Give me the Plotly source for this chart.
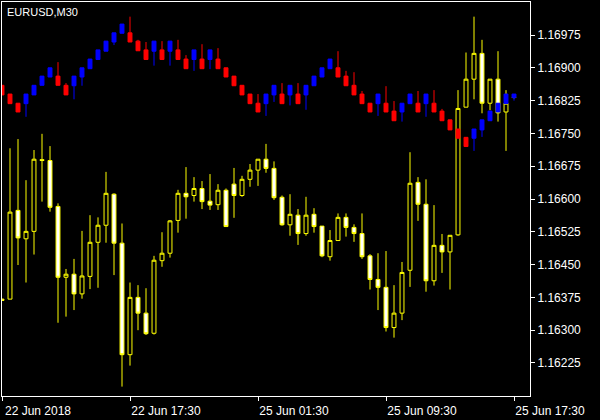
import plotly.graph_objects as go
import pandas as pd

chart_title = "EURUSD,M30"

# M30 bar times: Friday 22 Jun 09:30-23:30, Monday 25 Jun 00:00-17:30
fri = pd.date_range("2018-06-22 09:30", "2018-06-22 23:30", freq="30min")
mon = pd.date_range("2018-06-25 00:00", "2018-06-25 17:30", freq="30min")
times = [t.strftime("%Y-%m-%d %H:%M") for t in list(fri) + list(mon)]

candle_open = [1.16371, 1.16371, 1.16574, 1.16509, 1.16526, 1.16690, 1.16688, 1.16583, 1.16421, 1.16428,
               1.16383, 1.16423, 1.16501, 1.16540, 1.16611, 1.16499, 1.16244, 1.16375, 1.16339, 1.16293,
               1.16459, 1.16476, 1.16551, 1.16613, 1.16608, 1.16624, 1.16595, 1.16587, 1.16620, 1.16634,
               1.16608, 1.16645, 1.16666, 1.16691, 1.16670, 1.16604, 1.16541, 1.16563, 1.16521, 1.16565,
               1.16538, 1.16468, 1.16505, 1.16558, 1.16535, 1.16521, 1.16470, 1.16416, 1.16398, 1.16306,
               1.16339, 1.16437, 1.16638, 1.16588, 1.16413, 1.16494, 1.16479, 1.16518, 1.16810, 1.16874,
               1.16933, 1.16819, 1.16874, 1.16799, 1.16832]
candle_high = [1.16372, 1.16716, 1.16737, 1.16643, 1.16712, 1.16749, 1.16721, 1.16590, 1.16440, 1.16463,
               1.16527, 1.16563, 1.16558, 1.16662, 1.16613, 1.16544, 1.16409, 1.16403, 1.16396, 1.16470,
               1.16524, 1.16552, 1.16621, 1.16673, 1.16650, 1.16641, 1.16657, 1.16634, 1.16624, 1.16671,
               1.16653, 1.16680, 1.16691, 1.16726, 1.16686, 1.16608, 1.16611, 1.16577, 1.16605, 1.16579,
               1.16538, 1.16529, 1.16567, 1.16567, 1.16542, 1.16567, 1.16474, 1.16476, 1.16481, 1.16403,
               1.16456, 1.16707, 1.16650, 1.16645, 1.16586, 1.16520, 1.16517, 1.16849, 1.16935, 1.17017,
               1.16964, 1.16874, 1.16938, 1.16849, 1.16834]
candle_low = [1.16368, 1.16371, 1.16449, 1.16409, 1.16473, 1.16594, 1.16571, 1.16317, 1.16331, 1.16346,
              1.16372, 1.16394, 1.16397, 1.16500, 1.16426, 1.16171, 1.16219, 1.16300, 1.16289, 1.16290,
              1.16445, 1.16466, 1.16523, 1.16555, 1.16594, 1.16577, 1.16575, 1.16575, 1.16537, 1.16557,
              1.16605, 1.16628, 1.16630, 1.16660, 1.16598, 1.16539, 1.16516, 1.16495, 1.16516, 1.16523,
              1.16467, 1.16459, 1.16505, 1.16514, 1.16502, 1.16463, 1.16393, 1.16346, 1.16297, 1.16283,
              1.16323, 1.16399, 1.16550, 1.16388, 1.16402, 1.16431, 1.16393, 1.16516, 1.16810, 1.16828,
              1.16796, 1.16803, 1.16777, 1.16710, 1.16830]
candle_close = [1.16368, 1.16570, 1.16511, 1.16526, 1.16691, 1.16688, 1.16581, 1.16421, 1.16428, 1.16383,
                1.16424, 1.16501, 1.16540, 1.16613, 1.16499, 1.16244, 1.16375, 1.16339, 1.16292, 1.16460,
                1.16476, 1.16550, 1.16613, 1.16605, 1.16624, 1.16594, 1.16586, 1.16620, 1.16537, 1.16608,
                1.16645, 1.16666, 1.16691, 1.16670, 1.16603, 1.16541, 1.16565, 1.16521, 1.16563, 1.16537,
                1.16470, 1.16505, 1.16558, 1.16535, 1.16521, 1.16468, 1.16416, 1.16398, 1.16306, 1.16339,
                1.16432, 1.16636, 1.16588, 1.16413, 1.16494, 1.16479, 1.16517, 1.16807, 1.16874, 1.16933,
                1.16819, 1.16874, 1.16797, 1.16819, 1.16833]

# indicator bricks (blue = up, red = down)
ind_open = [1.16860, 1.16840, 1.16819, 1.16818, 1.16838, 1.16860, 1.16879, 1.16881, 1.16860, 1.16859,
            1.16879, 1.16898, 1.16919, 1.16938, 1.16959, 1.16979, 1.16980, 1.16961, 1.16941, 1.16938,
            1.16941, 1.16938, 1.16941, 1.16920, 1.16919, 1.16920, 1.16919, 1.16920, 1.16900, 1.16881,
            1.16860, 1.16840, 1.16819, 1.16818, 1.16838, 1.16840, 1.16838, 1.16840, 1.16838, 1.16859,
            1.16879, 1.16898, 1.16900, 1.16881, 1.16860, 1.16840, 1.16819, 1.16818, 1.16819, 1.16801,
            1.16799, 1.16818, 1.16819, 1.16818, 1.16819, 1.16801, 1.16781, 1.16760, 1.16741, 1.16739,
            1.16758, 1.16779, 1.16799, 1.16818, 1.16832]
ind_high = [1.16860, 1.16840, 1.16819, 1.16840, 1.16860, 1.16881, 1.16900, 1.16913, 1.16865, 1.16881,
            1.16900, 1.16920, 1.16941, 1.16961, 1.16980, 1.17000, 1.17017, 1.16964, 1.16959, 1.16961,
            1.16961, 1.16961, 1.16964, 1.16929, 1.16941, 1.16954, 1.16941, 1.16945, 1.16900, 1.16881,
            1.16860, 1.16840, 1.16840, 1.16840, 1.16860, 1.16865, 1.16860, 1.16865, 1.16860, 1.16881,
            1.16900, 1.16920, 1.16938, 1.16893, 1.16890, 1.16847, 1.16819, 1.16840, 1.16858, 1.16824,
            1.16819, 1.16840, 1.16847, 1.16840, 1.16849, 1.16806, 1.16781, 1.16760, 1.16741, 1.16760,
            1.16781, 1.16801, 1.16819, 1.16840, 1.16840]
ind_low = [1.16838, 1.16818, 1.16799, 1.16788, 1.16838, 1.16860, 1.16879, 1.16860, 1.16838, 1.16828,
           1.16859, 1.16898, 1.16919, 1.16938, 1.16952, 1.16979, 1.16959, 1.16939, 1.16919, 1.16905,
           1.16919, 1.16905, 1.16919, 1.16898, 1.16893, 1.16898, 1.16897, 1.16898, 1.16879, 1.16859,
           1.16838, 1.16818, 1.16799, 1.16790, 1.16822, 1.16818, 1.16814, 1.16818, 1.16804, 1.16859,
           1.16879, 1.16898, 1.16879, 1.16859, 1.16838, 1.16818, 1.16799, 1.16790, 1.16799, 1.16779,
           1.16777, 1.16818, 1.16799, 1.16788, 1.16799, 1.16779, 1.16758, 1.16739, 1.16720, 1.16710,
           1.16742, 1.16779, 1.16799, 1.16818, 1.16825]
ind_close = [1.16838, 1.16818, 1.16799, 1.16840, 1.16860, 1.16881, 1.16900, 1.16860, 1.16838, 1.16881,
             1.16900, 1.16920, 1.16941, 1.16961, 1.16980, 1.17000, 1.16959, 1.16939, 1.16919, 1.16961,
             1.16919, 1.16961, 1.16919, 1.16898, 1.16941, 1.16898, 1.16941, 1.16898, 1.16879, 1.16859,
             1.16838, 1.16818, 1.16799, 1.16840, 1.16860, 1.16818, 1.16860, 1.16818, 1.16860, 1.16881,
             1.16900, 1.16920, 1.16879, 1.16859, 1.16838, 1.16818, 1.16799, 1.16840, 1.16799, 1.16779,
             1.16819, 1.16840, 1.16799, 1.16840, 1.16799, 1.16779, 1.16758, 1.16739, 1.16720, 1.16760,
             1.16781, 1.16801, 1.16819, 1.16840, 1.16840]

y_ticks = [1.16225, 1.16300, 1.16375, 1.16450, 1.16525, 1.16600, 1.16675, 1.16750, 1.16825, 1.16900, 1.16975]
x_tick_bars = [0, 16, 32, 48, 64]
x_tick_text = ["22 Jun 2018", "22 Jun 17:30", "25 Jun 01:30", "25 Jun 09:30", "25 Jun 17:30"]

FONT = "Liberation Sans, Arial, sans-serif"

fig = go.Figure()
fig.add_trace(go.Candlestick(
    x=times, open=candle_open, high=candle_high, low=candle_low, close=candle_close,
    increasing=dict(line=dict(color="#FFFF00", width=1), fillcolor="#000000"),
    decreasing=dict(line=dict(color="#FFFF00", width=1), fillcolor="#FFFFFF"),
    whiskerwidth=0, hoverinfo="skip", showlegend=False,
))
fig.add_trace(go.Candlestick(
    x=times, open=ind_open, high=ind_high, low=ind_low, close=ind_close,
    increasing=dict(line=dict(color="#0000FF", width=1), fillcolor="#0000FF"),
    decreasing=dict(line=dict(color="#FF0000", width=1), fillcolor="#FF0000"),
    whiskerwidth=0, hoverinfo="skip", showlegend=False,
))

fig.add_annotation(
    text=chart_title, xref="paper", yref="paper", x=0, y=1,
    xanchor="left", yanchor="top", xshift=3, yshift=-2, showarrow=False,
    font=dict(family=FONT, size=11, color="#FFFFFF"),
)

fig.update_layout(
    width=600, height=420,
    margin=dict(l=2, r=70, t=2, b=24),
    paper_bgcolor="#000000", plot_bgcolor="#000000",
    font=dict(family=FONT, size=12, color="#FFFFFF"),
    boxmode="overlay",
    xaxis=dict(
        type="category", categoryorder="array", categoryarray=times,
        range=[0, 66], rangeslider=dict(visible=False),
        tickmode="array", tickvals=[times[i] for i in x_tick_bars], ticktext=x_tick_text,
        ticks="outside", ticklen=4, tickcolor="#FFFFFF", tickwidth=1,
        ticklabelshift=36,
        showline=True, linecolor="#FFFFFF", linewidth=1, mirror=True,
        showgrid=False, zeroline=False, fixedrange=True,
        tickfont=dict(family=FONT, size=12, color="#FFFFFF"),
    ),
    yaxis=dict(
        side="right", range=[1.161495, 1.170505],
        tickmode="array", tickvals=y_ticks, ticktext=[f"{v:.5f}" for v in y_ticks],
        ticks="outside", ticklen=4, tickcolor="#FFFFFF", tickwidth=1,
        showline=True, linecolor="#FFFFFF", linewidth=1, mirror=True,
        showgrid=False, zeroline=False, fixedrange=True,
        tickfont=dict(family=FONT, size=12, color="#FFFFFF"),
    ),
)

fig.write_html(
    "out.html",
    config={"displayModeBar": False, "staticPlot": True},
    post_script="document.body.style.margin='0';document.body.style.background='#000';",
)
